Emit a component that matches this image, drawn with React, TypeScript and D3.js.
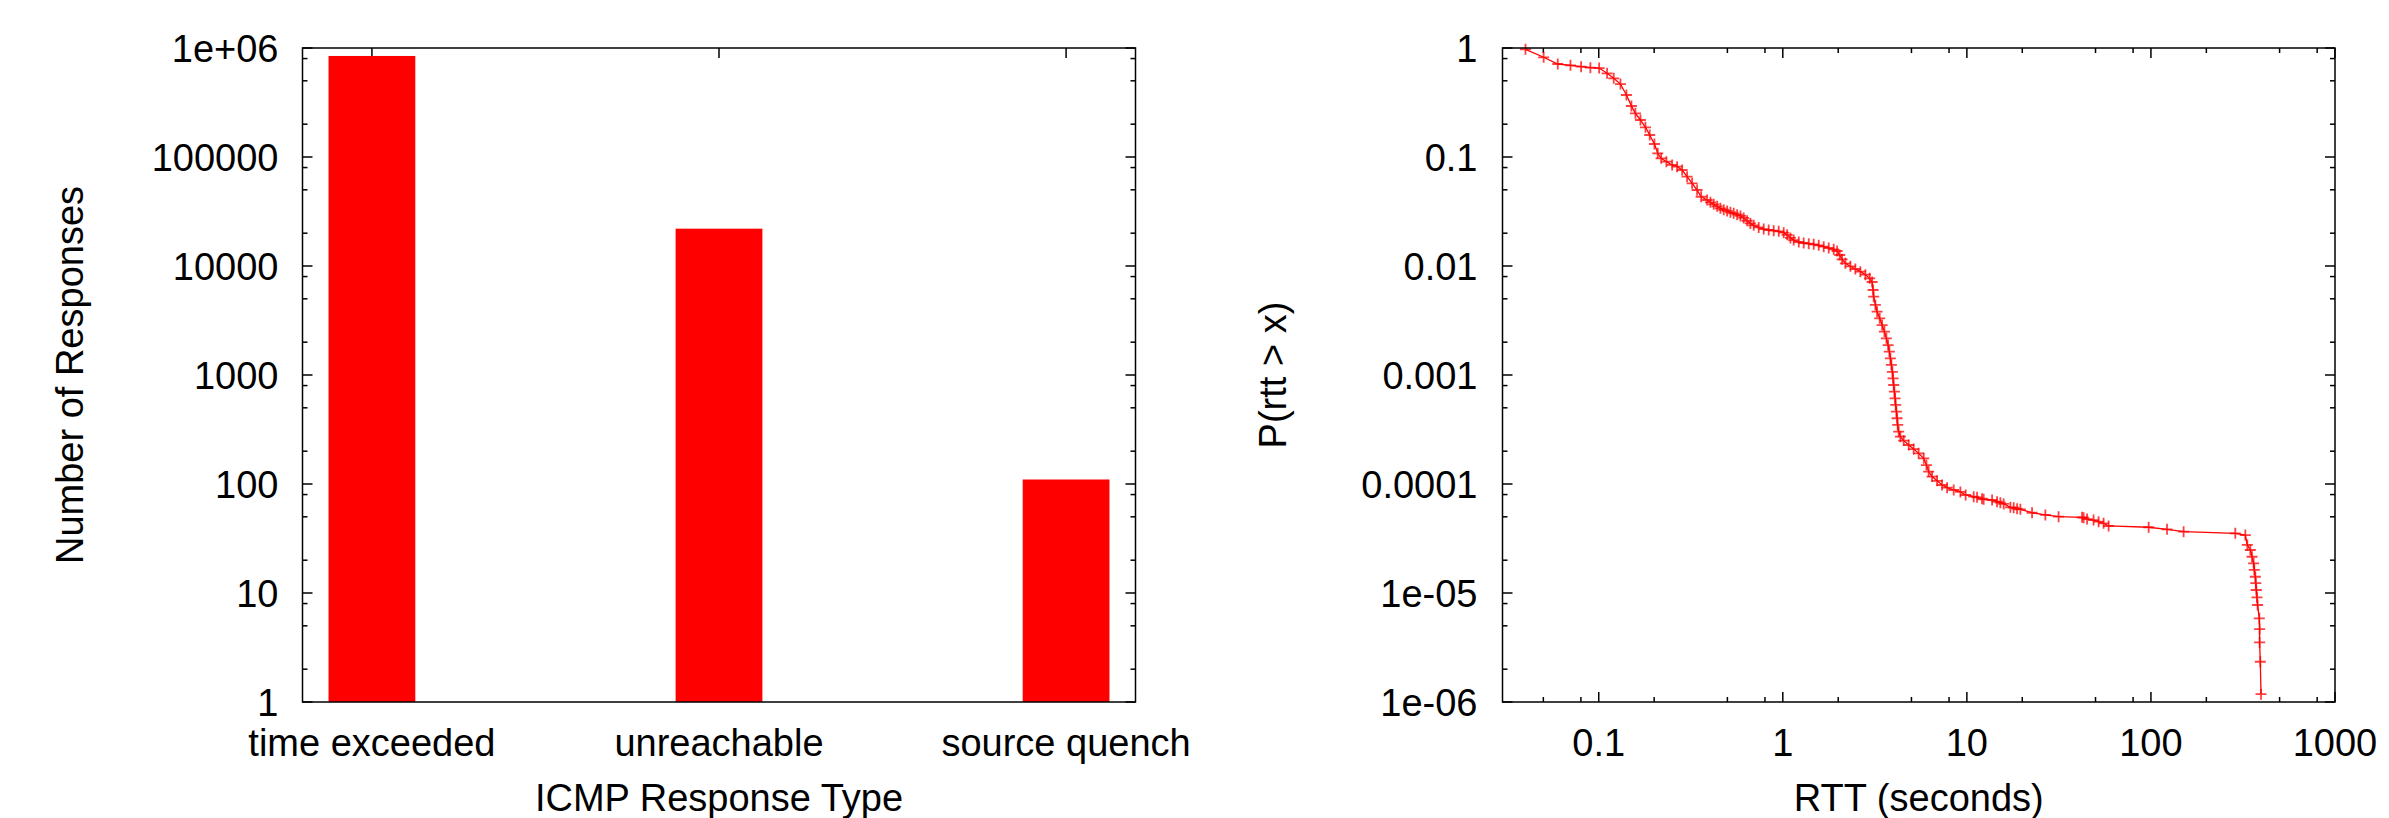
import React, { useRef, useEffect } from 'react';
import * as d3 from 'd3';

// left chart: ICMP response counts
const responseTypes = ['time exceeded', 'unreachable', 'source quench'];
const responseCounts = [845000, 22000, 110];
const countTicks = [1, 10, 100, 1000, 10000, 100000, 1e6];
const countTickLabels = ['1', '10', '100', '1000', '10000', '100000', '1e+06'];

// right chart: CCDF of round trip times
const rttSeconds = [
  0.04, 0.0502, 0.0599, 0.0702, 0.0802, 0.0901, 0.1005, 0.111, 0.1206, 0.1312,
  0.1414, 0.1505, 0.1582, 0.1685, 0.1794, 0.1892, 0.2007, 0.2092, 0.2183, 0.2331,
  0.2504, 0.2666, 0.2838, 0.3021, 0.3216, 0.3423, 0.3599, 0.388, 0.4045, 0.4214,
  0.4398, 0.4581, 0.4775, 0.4982, 0.5193, 0.5412, 0.5647, 0.5885, 0.6133, 0.6399,
  0.6668, 0.695, 0.7396, 0.7874, 0.8381, 0.8923, 0.9501, 1.0113, 1.055, 1.1,
  1.146, 1.221, 1.299, 1.383, 1.472, 1.567, 1.668, 1.776, 1.89, 1.972,
  2.037, 2.099, 2.188, 2.329, 2.479, 2.639, 2.81, 2.965, 3.056, 3.094,
  3.117, 3.184, 3.253, 3.36, 3.463, 3.564, 3.654, 3.733, 3.793, 3.841,
  3.889, 3.938, 3.972, 4.003, 4.038, 4.074, 4.105, 4.141, 4.177, 4.209,
  4.261, 4.353, 4.537, 4.83, 5.14, 5.47, 5.83, 6.03, 6.2, 6.47,
  6.89, 7.33, 7.81, 8.48, 9.22, 9.85, 10.89, 11.36, 12.09, 12.34,
  13.71, 14.59, 15.2, 15.85, 17.23, 17.96, 18.74, 19.53, 22.6, 26.7,
  31.5, 42.25, 43.1, 44.97, 48.8, 51.97, 55.3, 58.9, 97.2, 122.3,
  150.5, 287.3, 325.7, 333.9, 346.7, 354.2, 361.3, 364.4, 369, 371.3,
  373.6, 376.9, 379.8, 387.9, 389.4, 389.4, 392.9, 396.3
];
const ccdf = [
  0.973, 0.822, 0.713, 0.694, 0.674, 0.66, 0.655, 0.586, 0.527, 0.467,
  0.3705, 0.2937, 0.2518, 0.2185, 0.1873, 0.1591, 0.1316, 0.1081, 0.0973, 0.0906,
  0.0845, 0.0815, 0.076, 0.066, 0.0574, 0.0498, 0.0432, 0.0403, 0.0384, 0.0368,
  0.0353, 0.0338, 0.0328, 0.032, 0.0311, 0.0304, 0.0296, 0.0288, 0.0276, 0.026,
  0.0246, 0.0236, 0.0226, 0.0218, 0.0214, 0.0211, 0.0208, 0.0202, 0.0193, 0.0181,
  0.0173, 0.0166, 0.01626, 0.01602, 0.01582, 0.01549, 0.01503, 0.01462, 0.01423, 0.01373,
  0.01262, 0.01152, 0.01059, 0.00994, 0.00939, 0.00887, 0.00832, 0.00771, 0.00713, 0.00602,
  0.00523, 0.00439, 0.00381, 0.00331, 0.00287, 0.0025, 0.00217, 0.00188, 0.00164, 0.00142,
  0.00124, 0.00107, 0.000933, 0.00081, 0.000703, 0.000611, 0.000531, 0.000461, 0.000401, 0.000348,
  0.000302, 0.000272, 0.00025, 0.000228, 0.000209, 0.000191, 0.000172, 0.000149, 0.00013, 0.000117,
  0.000107, 9.79e-5, 9.25e-5, 8.81e-5, 8.45e-5, 7.93e-5, 7.65e-5, 7.55e-5, 7.33e-5, 7.24e-5,
  7.13e-5, 6.88e-5, 6.74e-5, 6.56e-5, 6.11e-5, 6.06e-5, 5.93e-5, 5.86e-5, 5.45e-5, 5.2e-5,
  5.01e-5, 4.95e-5, 4.91e-5, 4.77e-5, 4.67e-5, 4.51e-5, 4.36e-5, 4.12e-5, 4.01e-5, 3.84e-5,
  3.65e-5, 3.53e-5, 3.4e-5, 2.76e-5, 2.48e-5, 2.15e-5, 1.87e-5, 1.63e-5, 1.41e-5, 1.23e-5,
  1.065e-5, 9.13e-6, 7.76e-6, 5.86e-6, 4.67e-6, 3.53e-6, 2.34e-6, 1.18e-6
];
const rttTicks = [0.1, 1, 10, 100, 1000];
const rttTickLabels = ['0.1', '1', '10', '100', '1000'];
const probTicks = [1, 0.1, 0.01, 0.001, 0.0001, 1e-5, 1e-6];
const probTickLabels = ['1', '0.1', '0.01', '0.001', '0.0001', '1e-05', '1e-06'];

const W = 2389;
const H = 818;
const FONT = '"Liberation Sans", Arial, Helvetica, sans-serif';
const FS = 38;

// minor ticks at 2, 5, 8 of each decade (as in the original plot)
const minorLogTicks = (lo, hi) => {
  const out = [];
  for (let e = Math.floor(Math.log10(lo)); e <= Math.ceil(Math.log10(hi)); e++) {
    [2, 5, 8].forEach(m => {
      const v = m * Math.pow(10, e);
      if (v > lo && v < hi) out.push(v);
    });
  }
  return out;
};

export default function App() {
  const svgRef = useRef(null);

  useEffect(() => {
    document.body.style.margin = '0';
    document.body.style.overflow = 'hidden';
    const svg = d3.select(svgRef.current);
    svg.selectAll('*').remove();

    const top = 48, bottom = 702;
    const major = 10, minor = 5;

    const tick = (g, x1, y1, x2, y2) => {
      g.append('line').attr('x1', x1).attr('y1', y1).attr('x2', x2).attr('y2', y2)
        .attr('stroke', '#000').attr('stroke-width', 1.5);
    };

    const frame = (g, x0, x1) => {
      g.append('rect')
        .attr('x', x0).attr('y', top)
        .attr('width', x1 - x0).attr('height', bottom - top)
        .attr('fill', 'none').attr('stroke', '#000').attr('stroke-width', 1.5);
    };

    const yTicks = (g, y, x0, x1, majors, minors) => {
      majors.forEach(v => {
        tick(g, x0, y(v), x0 + major, y(v));
        tick(g, x1, y(v), x1 - major, y(v));
      });
      minors.forEach(v => {
        tick(g, x0, y(v), x0 + minor, y(v));
        tick(g, x1, y(v), x1 - minor, y(v));
      });
    };

    const text = (g, x, y, s, anchor = 'middle', rotate = false) => {
      const t = g.append('text')
        .attr('x', x).attr('y', y)
        .attr('font-family', FONT).attr('font-size', FS)
        .attr('text-anchor', anchor).attr('fill', '#000')
        .text(s);
      if (rotate) t.attr('transform', `rotate(-90, ${x}, ${y})`);
      return t;
    };

    // ---------- left: histogram ----------
    const L = svg.append('g');
    const lx0 = 302.5, lx1 = 1135.5;
    const xL = d3.scaleLinear().domain([-0.2, 2.2]).range([lx0, lx1]);
    const yL = d3.scaleLog().domain([1, 1e6]).range([bottom, top]);

    // x ticks at category centres (the bottom ones end up under the bars)
    responseTypes.forEach((c, i) => {
      tick(L, xL(i), bottom, xL(i), bottom - major);
      tick(L, xL(i), top, xL(i), top + major);
    });

    L.selectAll('rect.bar')
      .data(responseCounts)
      .enter()
      .append('rect')
      .attr('class', 'bar')
      .attr('x', (d, i) => xL(i - 0.125))
      .attr('width', xL(0.125) - xL(-0.125))
      .attr('y', d => yL(d))
      .attr('height', d => yL(1) - yL(d))
      .attr('fill', '#ff0000');

    yTicks(L, yL, lx0, lx1, countTicks, minorLogTicks(1, 1e6));
    frame(L, lx0, lx1);

    countTicks.forEach((v, i) => text(L, lx0 - 24, yL(v) + 13.6, countTickLabels[i], 'end'));
    responseTypes.forEach((c, i) => text(L, xL(i), 756, c));
    text(L, (lx0 + lx1) / 2, 811, 'ICMP Response Type');
    text(L, 83, (top + bottom) / 2, 'Number of Responses', 'middle', true);

    // ---------- right: RTT CCDF ----------
    const R = svg.append('g');
    const rx0 = 1502.5, rx1 = 2335;
    const xR = d3.scaleLog().domain([0.03, 1000]).range([rx0, rx1]);
    const yR = d3.scaleLog().domain([1e-6, 1]).range([bottom, top]);

    yTicks(R, yR, rx0, rx1, probTicks, minorLogTicks(1e-6, 1));
    rttTicks.forEach(v => {
      tick(R, xR(v), bottom, xR(v), bottom - major);
      tick(R, xR(v), top, xR(v), top + major);
    });
    minorLogTicks(0.03, 1000).forEach(v => {
      tick(R, xR(v), bottom, xR(v), bottom - minor);
      tick(R, xR(v), top, xR(v), top + minor);
    });

    const pts = rttSeconds.map((x, i) => [x, ccdf[i]]);
    const line = d3.line().x(d => xR(d[0])).y(d => yR(d[1]));
    R.append('path')
      .attr('d', line(pts))
      .attr('fill', 'none')
      .attr('stroke', '#ff0000')
      .attr('stroke-width', 1.3);

    R.selectAll('path.mark')
      .data(pts)
      .enter()
      .append('path')
      .attr('class', 'mark')
      .attr('d', 'M-5.5,0H5.5M0,-5.5V5.5')
      .attr('transform', d => `translate(${xR(d[0])},${yR(d[1])})`)
      .attr('stroke', '#ff0000')
      .attr('stroke-opacity', 0.75)
      .attr('stroke-width', 1.8)
      .attr('fill', 'none');

    frame(R, rx0, rx1);

    probTicks.forEach((v, i) => text(R, rx0 - 25, yR(v) + 13.6, probTickLabels[i], 'end'));
    rttTicks.forEach((v, i) => text(R, xR(v), 756, rttTickLabels[i]));
    text(R, (rx0 + rx1) / 2, 811, 'RTT (seconds)');
    text(R, 1286, (top + bottom) / 2, 'P(rtt > x)', 'middle', true);
  }, []);

  return (
    <svg
      ref={svgRef}
      width={W}
      height={H}
      style={{ position: 'absolute', left: 0, top: 0, background: '#fff' }}
    />
  );
}
